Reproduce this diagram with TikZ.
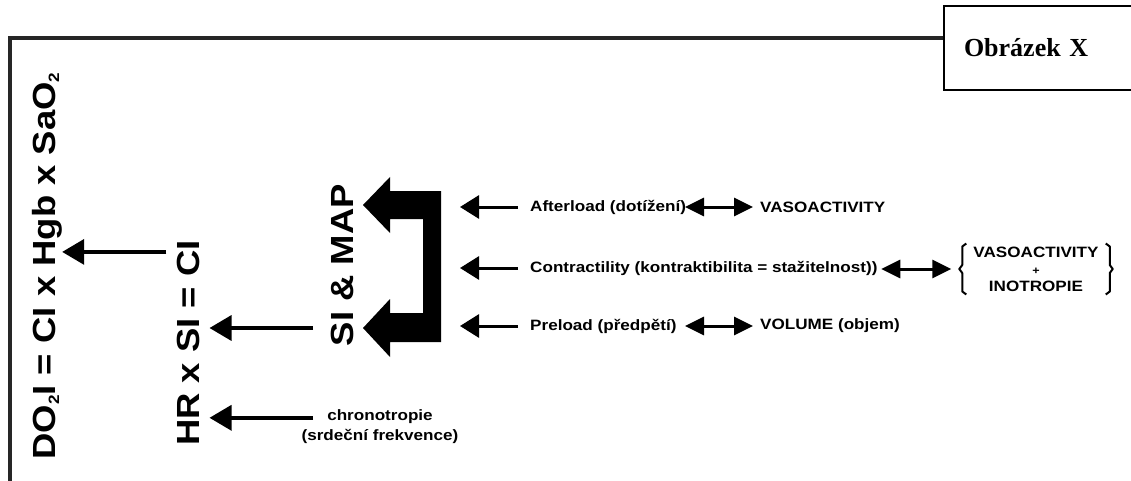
\documentclass[tikz,border=0pt]{standalone}
\usepackage{fontspec}
\setmainfont{Liberation Serif}
\newfontfamily\diagfont[FakeStretch=1.14]{Liberation Sans}
\usetikzlibrary{arrows.meta, positioning}

\begin{document}
\begin{tikzpicture}[
    x=1pt, y=-1pt,
    bigtext/.style={rotate=90, inner sep=0pt, font=\diagfont\bfseries\fontsize{32}{36}\selectfont},
    smalltext/.style={inner sep=0pt, font=\diagfont\bfseries\fontsize{15}{18}\selectfont},
    titlebox/.style={draw, line width=2pt, minimum height=84pt, text width=150pt, inner xsep=20pt, align=left, font=\bfseries\fontsize{26}{30}\selectfont},
    arrow/.style={-{Triangle[length=19pt,width=23pt]}, line width=3pt},
    bigarrow/.style={-{Triangle[length=22pt,width=25pt]}, line width=3.5pt},
    dblarrow/.style={{Triangle[length=19pt,width=18pt]}-{Triangle[length=19pt,width=18pt]}, line width=3pt},
    brace/.style={line width=2pt, line join=round},
    frame/.style={line width=4pt, black!85}
]
\useasboundingbox (0,0) rectangle (1131,481);

% Define nodes
\node[titlebox, anchor=north west] (obr) at (943,5) {Obrázek X};

\node[bigtext] (do2i) at (47,266) {DO{\fontsize{15}{15}\selectfont\raisebox{-4pt}{2}}I = CI x Hgb x SaO{\fontsize{15}{15}\selectfont\raisebox{-4pt}{2}}};
\node[bigtext] (hrsi) at (188,343) {HR x SI = CI};
\node[bigtext] (simap) at (342,265) {SI \& MAP};

\node[smalltext, anchor=west] (after) at (530,207) {Afterload (dotížení)};
\node[smalltext, anchor=west] (contr) at (530,268) {Contractility (kontraktibilita = stažitelnost))};
\node[smalltext, anchor=west] (pre) at (530,326) {Preload (předpětí)};
\node[smalltext, anchor=west] (vaso) at (760,207) {VASOACTIVITY};
\node[smalltext, anchor=west] (volume) at (760,326) {VOLUME (objem)};
\node[smalltext, inner xsep=12pt, inner ysep=3pt, align=center] (group) at (1036,269) {VASOACTIVITY\\[-1pt]{\fontsize{11}{11}\selectfont +}\\[-1pt]INOTROPIE};
\node[smalltext, align=center, font=\diagfont\bfseries\fontsize{15}{20}\selectfont] (chrono) at (380,427) {chronotropie\\(srdeční frekvence)};

% Frame
\coordinate (corner) at (10,38);
\draw[frame] (obr.west |- corner) -- (corner) -- (10,481);

% Braces round the group
\draw[brace] ([shift={(5pt,0pt)}]group.north west) -- ([shift={(1pt,-3pt)}]group.north west)
  -- ([shift={(1pt,4pt)}]group.west) -- ([shift={(-2pt,0pt)}]group.west)
  -- ([shift={(1pt,-4pt)}]group.west) -- ([shift={(1pt,3pt)}]group.south west)
  -- ([shift={(5pt,0pt)}]group.south west);
\draw[brace] ([shift={(-5pt,0pt)}]group.north east) -- ([shift={(-1pt,-3pt)}]group.north east)
  -- ([shift={(-1pt,4pt)}]group.east) -- ([shift={(2pt,0pt)}]group.east)
  -- ([shift={(-1pt,-4pt)}]group.east) -- ([shift={(-1pt,3pt)}]group.south east)
  -- ([shift={(-5pt,0pt)}]group.south east);

% Big U-shaped arrow
\fill (363,205) coordinate (Utop) -- (390,177) -- (390,191) -- (441,191) -- (441,342)
  -- (390,342) -- (390,357) -- (363,328) coordinate (Ubot) -- (390,299) -- (390,313)
  -- (423,313) -- (423,219) -- (390,219) -- (390,233) -- cycle;

% Define arrows
\coordinate (tipcol) at (460,0);
\draw[arrow] ([xshift=-12pt]after.west) -- (after.west -| tipcol);
\draw[arrow] ([xshift=-12pt]contr.west) -- (contr.west -| tipcol);
\draw[arrow] ([xshift=-12pt]pre.west) -- (pre.west -| tipcol);

\draw[dblarrow] ([xshift=-75pt]vaso.west) -- ([xshift=-7pt]vaso.west);
\draw[dblarrow] ([xshift=-75pt]volume.west) -- ([xshift=-7pt]volume.west);
\draw[dblarrow] ([xshift=-80pt]group.west) -- ([xshift=-10pt]group.west);

\path ([xshift=-50pt]Ubot) coordinate (tailcol);
\draw[bigarrow, shorten >=10pt] (tailcol) -- (hrsi.south |- tailcol);
\draw[bigarrow, shorten >=10pt] ([yshift=-8pt]chrono.north -| tailcol) -- ([yshift=-8pt]chrono.north -| hrsi.south);
\draw[bigarrow] ([shift={(-10pt,-12pt)}]hrsi.north east) coordinate (hrtail) -- (do2i.south |- hrtail);

\end{tikzpicture}
\end{document}
